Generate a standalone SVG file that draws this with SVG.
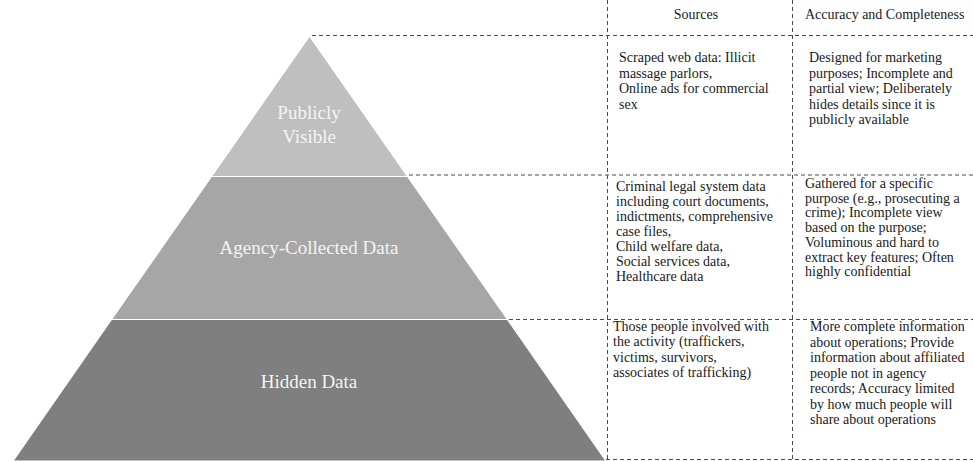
<svg xmlns="http://www.w3.org/2000/svg" width="973" height="461" viewBox="0 0 973 461">
<style>
.bg{fill:#ffffff}
.tier{stroke:#ffffff;stroke-width:1.2}
.lbl{font-family:"Liberation Serif","Times New Roman",serif;font-size:19px;fill:#f4f4f4;text-anchor:middle}
.txt{font-family:"Liberation Serif","Times New Roman",serif;font-size:14px;fill:#1a1a1a}
.hdr{font-family:"Liberation Serif","Times New Roman",serif;font-size:14px;fill:#1a1a1a}
.dash{stroke:#4a4a4a;stroke-width:1;stroke-dasharray:4 3;fill:none}
</style>
<rect class="bg" x="0" y="0" width="973" height="461"/>
<g id="tier-public">
<polygon class="tier" fill="#bfbfbf" points="309.5,36 407.5,176.5 211.5,176.5"/>
<text class="lbl" x="309" y="119">Publicly</text>
<text class="lbl" x="309" y="143">Visible</text>
</g>
<g id="tier-agency">
<polygon class="tier" fill="#a6a6a6" points="211.5,176.5 407.5,176.5 507.5,319.5 111.5,319.5"/>
<text class="lbl" x="309" y="254">Agency-Collected Data</text>
</g>
<g id="tier-hidden">
<polygon class="tier" fill="#7f7f7f" points="111.5,319.5 507.5,319.5 606,461 13,461"/>
<text class="lbl" x="309" y="388">Hidden Data</text>
</g>
<g id="connectors">
<line class="dash" x1="312" y1="35.5" x2="973" y2="35.5"/>
<line class="dash" x1="409" y1="175" x2="973" y2="175"/>
<line class="dash" x1="509" y1="319.5" x2="973" y2="319.5"/>
<line class="dash" x1="606" y1="459.5" x2="973" y2="459.5"/>
<line class="dash" x1="607.5" y1="0" x2="607.5" y2="461"/>
<line class="dash" x1="792.5" y1="0" x2="792.5" y2="461"/>
</g>
<g id="header">
<text class="hdr" x="696" y="19" text-anchor="middle">Sources</text>
<text class="hdr" x="805" y="19">Accuracy and Completeness</text>
</g>
<g id="row-public">
<text class="txt" x="619" y="62"><tspan x="619">Scraped web data: Illicit</tspan><tspan x="619" dy="15.5">massage parlors,</tspan><tspan x="619" dy="15.5">Online ads for commercial</tspan><tspan x="619" dy="15.5">sex</tspan></text>
<text class="txt" x="809" y="62"><tspan x="809">Designed for marketing</tspan><tspan x="809" dy="15.5">purposes; Incomplete and</tspan><tspan x="809" dy="15.5">partial view; Deliberately</tspan><tspan x="809" dy="15.5">hides details since it is</tspan><tspan x="809" dy="15.5">publicly available</tspan></text>
</g>
<g id="row-agency">
<text class="txt" x="616" y="191"><tspan x="616">Criminal legal system data</tspan><tspan x="616" dy="15">including court documents,</tspan><tspan x="616" dy="15">indictments, comprehensive</tspan><tspan x="616" dy="15">case files,</tspan><tspan x="616" dy="15">Child welfare data,</tspan><tspan x="616" dy="15">Social services data,</tspan><tspan x="616" dy="15">Healthcare data</tspan></text>
<text class="txt" x="805" y="188"><tspan x="805">Gathered for a specific</tspan><tspan x="805" dy="14.7">purpose (e.g., prosecuting a</tspan><tspan x="805" dy="14.7">crime); Incomplete view</tspan><tspan x="805" dy="14.7">based on the purpose;</tspan><tspan x="805" dy="14.7">Voluminous and hard to</tspan><tspan x="805" dy="14.7">extract key features; Often</tspan><tspan x="805" dy="14.7">highly confidential</tspan></text>
</g>
<g id="row-hidden">
<text class="txt" x="613" y="331"><tspan x="613">Those people involved with</tspan><tspan x="613" dy="15.4">the activity (traffickers,</tspan><tspan x="613" dy="15.4">victims, survivors,</tspan><tspan x="613" dy="15.4">associates of trafficking)</tspan></text>
<text class="txt" x="810" y="331"><tspan x="810">More complete information</tspan><tspan x="810" dy="15.5">about operations; Provide</tspan><tspan x="810" dy="15.5">information about affiliated</tspan><tspan x="810" dy="15.5">people not in agency</tspan><tspan x="810" dy="15.5">records; Accuracy limited</tspan><tspan x="810" dy="15.5">by how much people will</tspan><tspan x="810" dy="15.5">share about operations</tspan></text>
</g>
</svg>
